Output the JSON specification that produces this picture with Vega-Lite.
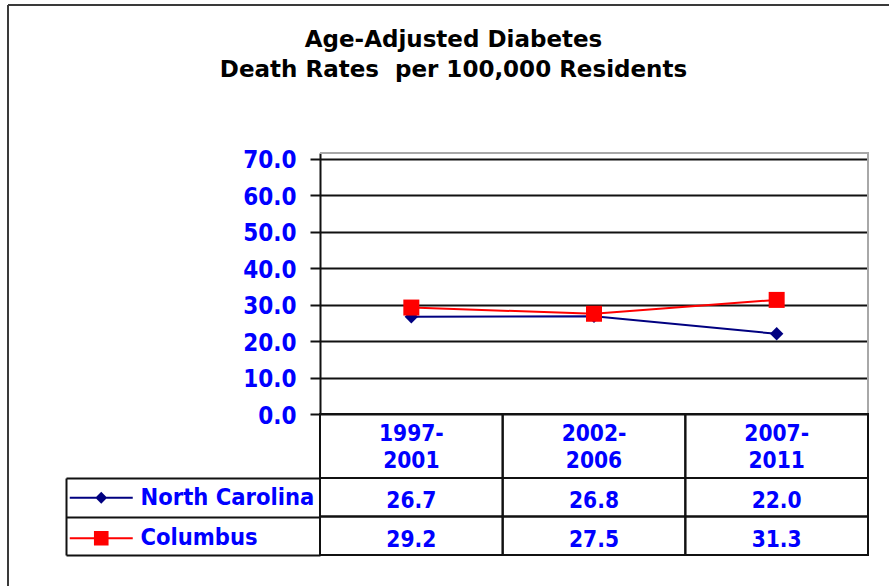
{
  "$schema": "https://vega.github.io/schema/vega-lite/v6.json",
  "width": 881,
  "height": 581,
  "autosize": {"type": "none"},
  "padding": {"left": 8, "top": 5, "right": 0, "bottom": 0},
  "background": "white",
  "config": {
    "view": {"stroke": "#3a3a3a", "strokeWidth": 2, "strokeDash": [881, 1462, 581, 0]}
  },
  "title": {
    "text": ["Age-Adjusted Diabetes", "Death Rates \u00a0per 100,000 Residents"],
    "font": "DejaVu Sans",
    "fontSize": 23,
    "fontWeight": "bold",
    "color": "#000000",
    "anchor": "middle",
    "frame": "group",
    "baseline": "alphabetic",
    "lineHeight": 30,
    "offset": -95,
    "dx": 5
  },
  "datasets": {
    "rates": [
      {"series": "North Carolina", "period": "1997-2001", "rate": 26.7},
      {"series": "North Carolina", "period": "2002-2006", "rate": 26.8},
      {"series": "North Carolina", "period": "2007-2011", "rate": 22.0},
      {"series": "Columbus", "period": "1997-2001", "rate": 29.2},
      {"series": "Columbus", "period": "2002-2006", "rate": 27.5},
      {"series": "Columbus", "period": "2007-2011", "rate": 31.3}
    ],
    "periods": [
      {"period": "1997-2001", "label": ["1997-", "2001"]},
      {"period": "2002-2006", "label": ["2002-", "2006"]},
      {"period": "2007-2011", "label": ["2007-", "2011"]}
    ]
  },
  "layer": [
    {
      "data": {"values": [{}]},
      "mark": {"type": "rect", "fill": null, "stroke": "#a8a8a8", "strokeWidth": 2, "strokeDash": [809, 809]},
      "encoding": {
        "x": {"datum": "1997-2001", "type": "nominal", "bandPosition": 0,
              "scale": {"type": "band", "domain": ["1997-2001", "2002-2006", "2007-2011"], "range": [312, 860], "paddingInner": 0, "paddingOuter": 0},
              "axis": null},
        "x2": {"datum": "2007-2011", "bandPosition": 1},
        "y": {"datum": 0, "type": "quantitative", "scale": {"domain": [0, 71.6], "range": [409, 148], "nice": false}, "axis": null},
        "y2": {"datum": 71.6}
      }
    },
    {
      "data": {"name": "rates"},
      "mark": {"type": "line", "strokeWidth": 2},
      "encoding": {
        "x": {"field": "period", "type": "nominal", "sort": null,
              "scale": {"type": "band", "domain": ["1997-2001", "2002-2006", "2007-2011"], "range": [312, 860], "paddingInner": 0, "paddingOuter": 0},
              "axis": null},
        "y": {"field": "rate", "type": "quantitative",
              "scale": {"domain": [0, 71.6], "range": [409, 148], "nice": false},
              "axis": {
                "orient": "left", "offset": -312, "title": null,
                "values": [0, 10, 20, 30, 40, 50, 60, 70], "format": ".1f",
                "grid": true, "gridColor": "#111111", "gridWidth": 2, "gridOpacity": 1,
                "tickSize": 10, "tickColor": "#111111", "tickWidth": 2,
                "domainColor": "#111111", "domainWidth": 2,
                "labelPadding": 14, "labelBaseline": "middle", "labelAlign": "right", "labelOffset": 2,
                "labelFont": "DejaVu Sans Condensed", "labelFontWeight": "bold", "labelFontSize": 24,
                "labelColor": "#0000ff"
              }},
        "color": {"field": "series", "type": "nominal",
                  "scale": {"domain": ["North Carolina", "Columbus"], "range": ["#000080", "#ff0000"]},
                  "legend": {
                    "orient": "none", "legendX": 81.5, "legendY": 481, "title": null,
                    "direction": "vertical", "padding": 0,
                    "symbolSize": 100, "labelOffset": 27.5, "rowPadding": 15.5, "labelLimit": 0,
                    "labelFont": "DejaVu Sans Condensed", "labelFontWeight": "bold", "labelFontSize": 23.5,
                    "labelColor": "#0000ff", "labelBaseline": "middle",
                    "encode": {
                      "symbols": {
                        "update": {
                          "shape": {"signal": "datum.value === 'Columbus' ? 'M-6.3,0H6.3M-1.26,-1.26H1.26V1.26H-1.26Z' : 'M-6.3,0H6.3M-0.9,0L0,-0.9L0.9,0L0,0.9Z'"},
                          "fill": {"scale": "color", "field": "value"},
                          "stroke": {"scale": "color", "field": "value"},
                          "strokeWidth": {"value": 2},
                          "size": {"value": 100},
                          "opacity": {"value": 1}
                        }
                      }
                    }
                  }}
      }
    },
    {
      "data": {"name": "rates"},
      "transform": [{"filter": "datum.series === 'North Carolina'"}],
      "mark": {"type": "point", "shape": "diamond", "filled": true, "size": 180, "color": "#000080", "opacity": 1},
      "encoding": {
        "x": {"field": "period", "type": "nominal", "sort": null, "axis": null},
        "y": {"field": "rate", "type": "quantitative", "scale": {"domain": [0, 71.6], "range": [409, 148], "nice": false}, "axis": null}
      }
    },
    {
      "data": {"name": "rates"},
      "transform": [{"filter": "datum.series === 'Columbus'"}],
      "mark": {"type": "point", "shape": "square", "filled": true, "size": 256, "color": "#ff0000", "opacity": 1},
      "encoding": {
        "x": {"field": "period", "type": "nominal", "sort": null, "axis": null},
        "y": {"field": "rate", "type": "quantitative", "scale": {"domain": [0, 71.6], "range": [409, 148], "nice": false}, "axis": null}
      }
    },
    {
      "data": {"name": "periods"},
      "mark": {"type": "rect", "fill": null, "stroke": "#111111", "strokeWidth": 2},
      "encoding": {
        "x": {"field": "period", "type": "nominal", "sort": null, "axis": null},
        "y": {"datum": "header", "type": "nominal",
              "scale": {"type": "band", "domain": ["header"], "range": [409, 473], "paddingInner": 0, "paddingOuter": 0},
              "axis": null}
      }
    },
    {
      "data": {"name": "periods"},
      "mark": {"type": "text", "font": "DejaVu Sans Condensed", "fontWeight": "bold", "fontSize": 22.5, "color": "#0000ff", "align": "center", "baseline": "middle", "lineHeight": 26.5, "dy": -12},
      "encoding": {
        "x": {"field": "period", "type": "nominal", "sort": null, "axis": null},
        "y": {"datum": "header", "type": "nominal",
              "scale": {"type": "band", "domain": ["header"], "range": [409, 473], "paddingInner": 0, "paddingOuter": 0},
              "axis": null},
        "text": {"field": "label", "type": "nominal"}
      }
    },
    {
      "data": {"name": "rates"},
      "mark": {"type": "rect", "fill": null, "stroke": "#111111", "strokeWidth": 2},
      "encoding": {
        "x": {"field": "period", "type": "nominal", "sort": null, "axis": null},
        "y": {"field": "series", "type": "nominal",
              "scale": {"type": "band", "domain": ["North Carolina", "Columbus"], "range": [473, 550], "paddingInner": 0, "paddingOuter": 0},
              "axis": {
                "orient": "left", "offset": -58, "title": null, "labels": false,
                "tickBand": "extent", "tickSize": -254, "tickColor": "#111111", "tickWidth": 2,
                "domainColor": "#111111", "domainWidth": 2, "grid": false
              }}
      }
    },
    {
      "data": {"name": "rates"},
      "mark": {"type": "text", "font": "DejaVu Sans Condensed", "fontWeight": "bold", "fontSize": 22.5, "color": "#0000ff", "align": "center", "baseline": "middle", "dy": 4},
      "encoding": {
        "x": {"field": "period", "type": "nominal", "sort": null, "axis": null},
        "y": {"field": "series", "type": "nominal",
              "scale": {"type": "band", "domain": ["North Carolina", "Columbus"], "range": [473, 550], "paddingInner": 0, "paddingOuter": 0},
              "axis": null},
        "text": {"field": "rate", "type": "quantitative", "format": ".1f"}
      }
    }
  ],
  "resolve": {"scale": {"y": "independent"}, "axis": {"y": "independent"}}
}
